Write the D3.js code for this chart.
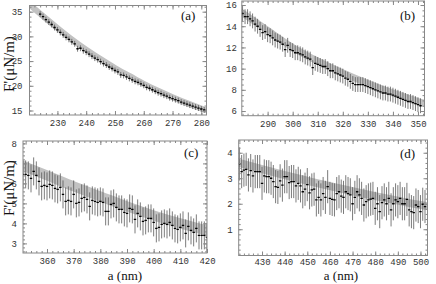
<!DOCTYPE html>
<html>
<head>
<meta charset="utf-8">
<script src="https://cdn.jsdelivr.net/npm/d3@7"></script>
<style>
  body { margin: 0; background: #fff; }
  svg { display: block; }
</style>
</head>
<body>
<svg id="chart" width="436" height="284"></svg>
<script>
// Panel (a): measured F' (uN/m), one point per nm starting at startA
var startA = 224;
var valuesA = [34.5,34.0,33.4,32.9,32.4,31.8,31.3,30.8,30.3,29.8,
  29.4,28.9,28.5,27.5,27.6,27.1,26.8,26.4,26.0,25.6,
  25.3,24.9,24.5,24.2,23.8,23.5,23.1,22.8,22.2,22.1,
  21.8,21.5,21.2,20.9,20.7,20.4,20.1,19.7,19.5,19.2,
  18.9,18.6,18.4,18.1,17.9,17.6,17.4,17.2,17.0,16.7,
  16.5,16.3,16.1,15.9,15.7,15.5,15.3,15.1];
var errA = 0.6;
var theoryXA = [220,225,230,235,240,245,250,255,260,265,270,275,280,282];
var theoryA  = [36.6,34.1,31.7,29.4,27.3,25.4,23.6,22.0,20.4,19.0,17.7,16.5,15.4,15.0];
var xTicksA = [230,240,250,260,270,280];
var yTicksA = [15,20,25,30,35];

// Panel (b)
var startB = 280;
var valuesB = [15.2,14.9,14.9,14.7,14.5,14.2,14.0,13.7,13.4,13.5,
  13.2,13.1,12.9,12.7,12.6,12.5,12.3,11.8,12.2,11.8,
  11.7,11.5,11.5,11.4,11.3,11.1,11.0,10.9,10.1,10.5,
  10.4,10.3,10.2,10.2,10.0,9.8,9.8,9.6,9.5,9.4,
  9.3,9.1,9.0,8.8,8.6,8.5,8.5,8.5,8.5,8.4,
  8.3,8.2,8.1,8.0,7.9,7.8,7.7,7.7,7.6,7.6,
  7.5,7.4,7.3,7.2,7.1,7.0,6.9,6.9,6.8,6.7,
  6.6,6.5];
var errB = 0.7;
var theoryXB = [279,290,300,310,320,330,340,350,353];
var theoryB  = [15.4,13.6,12.0,10.7,9.6,8.6,7.7,6.9,6.7];
var xTicksB = [290,300,310,320,330,340,350];
var yTicksB = [6,8,10,12,14,16];

// Panel (c)
var startC = 351;
var valuesC = [6.45,6.45,6.40,6.25,6.60,6.40,6.10,5.85,5.90,5.85,
  5.95,5.90,5.75,5.70,5.80,5.45,5.10,5.15,5.10,5.45,
  5.00,5.05,5.25,5.30,5.20,4.85,5.15,5.10,5.05,5.10,
  5.05,4.60,4.60,4.95,5.00,4.80,4.70,4.70,4.55,4.50,
  4.75,4.70,4.20,4.50,4.35,4.10,4.15,4.25,4.25,4.05,
  3.75,3.80,3.95,4.00,3.95,4.05,3.90,3.75,3.70,3.80,
  3.90,3.50,3.85,3.65,3.55,3.75,3.40,3.40,3.40,3.30];
var errC = 0.7;
var theoryXC = [350,360,370,380,390,400,410,420,421];
var theoryC  = [6.93,6.40,5.85,5.35,4.85,4.40,4.00,3.65,3.62];
var xTicksC = [360,370,380,390,400,410,420];
var yTicksC = [3,4,5,6,7,8];

// Panel (d)
var startD = 420;
var valuesD = [3.56,3.26,3.32,3.35,3.13,3.30,3.09,3.26,3.26,3.26,
  2.80,3.09,3.06,3.06,3.00,2.87,2.67,2.64,2.90,2.73,
  3.06,3.06,2.83,2.87,2.87,2.70,2.80,2.70,2.47,2.57,
  2.75,2.43,2.54,2.57,2.15,2.25,2.15,2.40,2.25,2.67,
  2.21,2.17,2.15,2.40,2.47,2.30,2.25,2.47,2.40,2.35,
  2.00,2.25,2.47,2.35,2.21,1.95,2.08,2.15,2.18,2.21,
  1.82,2.00,1.69,2.04,2.15,2.00,2.21,1.76,2.00,2.15,
  2.08,2.21,2.00,2.00,2.17,1.76,1.69,1.65,1.95,1.89,
  1.69,1.98,1.89];
var errD = 0.65;
var theoryXD = [419,430,440,450,460,470,480,490,500,504];
var theoryD  = [3.62,3.36,3.12,2.90,2.69,2.49,2.30,2.12,1.95,1.89];
var xTicksD = [430,440,450,460,470,480,490,500];
var yTicksD = [1,2,3,4];

var svg = d3.select('#chart');

function drawPanel(p)
{
  var x = d3.scaleLinear().domain(p.xDomain).range([p.left, p.right]);
  var y = d3.scaleLinear().domain(p.yDomain).range([p.bottom, p.top]);

  svg.append('clipPath').attr('id', 'clip-' + p.name)
    .append('rect')
    .attr('x', p.left).attr('y', p.top)
    .attr('width', p.right - p.left).attr('height', p.bottom - p.top);

  var g = svg.append('g');
  var inner = g.append('g').attr('clip-path', 'url(#clip-' + p.name + ')');

  // theory band
  var line = d3.line()
    .x(function (d) { return x(d[0]); })
    .y(function (d) { return y(d[1]); })
    .curve(d3.curveMonotoneX);
  inner.append('path')
    .datum(d3.zip(p.thX, p.thY))
    .attr('d', line)
    .attr('fill', 'none')
    .attr('stroke', '#c2c2c2')
    .attr('stroke-width', p.band);

  var pts = p.values.map(function (v, i) { return {a: p.start + i, f: v}; });

  inner.selectAll('line.err').data(pts).enter()
    .append('line')
    .attr('class', 'err')
    .attr('x1', function (d) { return x(d.a); })
    .attr('x2', function (d) { return x(d.a); })
    .attr('y1', function (d) { return y(d.f - p.err); })
    .attr('y2', function (d) { return y(d.f + p.err); })
    .attr('stroke', '#595959')
    .attr('stroke-width', 0.8);

  inner.selectAll('line.pt').data(pts).enter()
    .append('line')
    .attr('class', 'pt')
    .attr('x1', function (d) { return x(d.a) - 1.2; })
    .attr('x2', function (d) { return x(d.a) + 1.2; })
    .attr('y1', function (d) { return y(d.f); })
    .attr('y2', function (d) { return y(d.f); })
    .attr('stroke', '#000')
    .attr('stroke-width', 1.3);

  // ticks on all four sides, pointing inward
  function minorTicks(scale, step)
  {
    var d = scale.domain();
    var out = [];
    for (var v = Math.ceil(d[0] / step) * step; v <= d[1] + 1e-9; v += step) out.push(v);
    return out;
  }
  function styleAxis(sel)
  {
    sel.select('.domain').remove();
    sel.selectAll('line').attr('stroke', '#888');
    sel.selectAll('text')
      .attr('fill', '#333')
      .attr('font-family', '"Liberation Mono", monospace')
      .attr('font-size', 9);
  }
  var fmt = d3.format('d');
  var xMinor = minorTicks(x, p.xMinor);
  var yMinor = minorTicks(y, p.yMinor);

  g.append('g').attr('transform', 'translate(0,' + p.bottom + ')')
    .call(d3.axisBottom(x).tickValues(xMinor).tickSize(-2).tickFormat('')).call(styleAxis);
  g.append('g').attr('transform', 'translate(0,' + p.bottom + ')')
    .call(d3.axisBottom(x).tickValues(p.xTicks).tickSize(-4).tickPadding(p.xPad).tickFormat(fmt)).call(styleAxis);
  g.append('g').attr('transform', 'translate(0,' + p.top + ')')
    .call(d3.axisTop(x).tickValues(xMinor).tickSize(-2).tickFormat('')).call(styleAxis);
  g.append('g').attr('transform', 'translate(0,' + p.top + ')')
    .call(d3.axisTop(x).tickValues(p.xTicks).tickSize(-4).tickFormat('')).call(styleAxis);

  g.append('g').attr('transform', 'translate(' + p.left + ',0)')
    .call(d3.axisLeft(y).tickValues(yMinor).tickSize(-2).tickFormat('')).call(styleAxis);
  g.append('g').attr('transform', 'translate(' + p.left + ',0)')
    .call(d3.axisLeft(y).tickValues(p.yTicks).tickSize(-4).tickPadding(p.yPad).tickFormat(fmt)).call(styleAxis);
  g.append('g').attr('transform', 'translate(' + p.right + ',0)')
    .call(d3.axisRight(y).tickValues(yMinor).tickSize(-2).tickFormat('')).call(styleAxis);
  g.append('g').attr('transform', 'translate(' + p.right + ',0)')
    .call(d3.axisRight(y).tickValues(p.yTicks).tickSize(-4).tickFormat('')).call(styleAxis);

  // frame
  g.append('rect')
    .attr('x', p.left).attr('y', p.top)
    .attr('width', p.right - p.left).attr('height', p.bottom - p.top)
    .attr('fill', 'none').attr('stroke', '#888').attr('stroke-width', 1);

  g.append('text')
    .attr('x', p.tagX).attr('y', p.tagY)
    .attr('font-family', '"Liberation Serif", serif')
    .attr('font-size', 13)
    .attr('fill', '#111')
    .text(p.tag);
}

drawPanel({name: 'a', start: startA, values: valuesA, err: errA, thX: theoryXA, thY: theoryA,
  xTicks: xTicksA, yTicks: yTicksA, xMinor: 2, yMinor: 1,
  xDomain: [220.3, 281.8], yDomain: [14.09, 36.25],
  left: 29.5, right: 206.5, top: 5.5, bottom: 115, band: 6, xPad: 5, yPad: 7, tag: '(a)', tagX: 181, tagY: 20});

drawPanel({name: 'b', start: startB, values: valuesB, err: errB, thX: theoryXB, thY: theoryB,
  xTicks: xTicksB, yTicks: yTicksB, xMinor: 2, yMinor: 0.5,
  xDomain: [279.7, 352.6], yDomain: [5.56, 16.38],
  left: 241.8, right: 424.5, top: 1, bottom: 115.7, band: 7, xPad: 5, yPad: 5, tag: '(b)', tagX: 400, tagY: 19.5});

drawPanel({name: 'c', start: startC, values: valuesC, err: errC, thX: theoryXC, thY: theoryC,
  xTicks: xTicksC, yTicks: yTicksC, xMinor: 2, yMinor: 0.2,
  xDomain: [351, 420], yDomain: [2.52, 8.12],
  left: 23, right: 207, top: 141, bottom: 253, band: 10, xPad: 5, yPad: 6, tag: '(c)', tagX: 184, tagY: 157});

drawPanel({name: 'd', start: startD, values: valuesD, err: errD, thX: theoryXD, thY: theoryD,
  xTicks: xTicksD, yTicks: yTicksD, xMinor: 2, yMinor: 0.2,
  xDomain: [419.7, 503.1], yDomain: [-0.03, 4.5],
  left: 238.7, right: 427.5, top: 140, bottom: 255.5, band: 8, xPad: 3.5, yPad: 6, tag: '(d)', tagX: 400, tagY: 157.5});

// axis titles
function yTitle(cx, cy)
{
  svg.append('text')
    .attr('transform', 'translate(' + cx + ',' + cy + ') rotate(-90)')
    .attr('text-anchor', 'middle')
    .attr('font-family', '"Liberation Serif", serif')
    .attr('font-size', 15)
    .attr('fill', '#111')
    .text("F'(\u03bcN/m)");
}
function xTitle(cx, cy)
{
  svg.append('text')
    .attr('x', cx).attr('y', cy)
    .attr('text-anchor', 'middle')
    .attr('font-family', '"Liberation Serif", serif')
    .attr('font-size', 13)
    .attr('fill', '#111')
    .text('a (nm)');
}
yTitle(13.5, 64);
yTitle(13.5, 188);
xTitle(125, 280);
xTitle(341, 280);
</script>
</body>
</html>
